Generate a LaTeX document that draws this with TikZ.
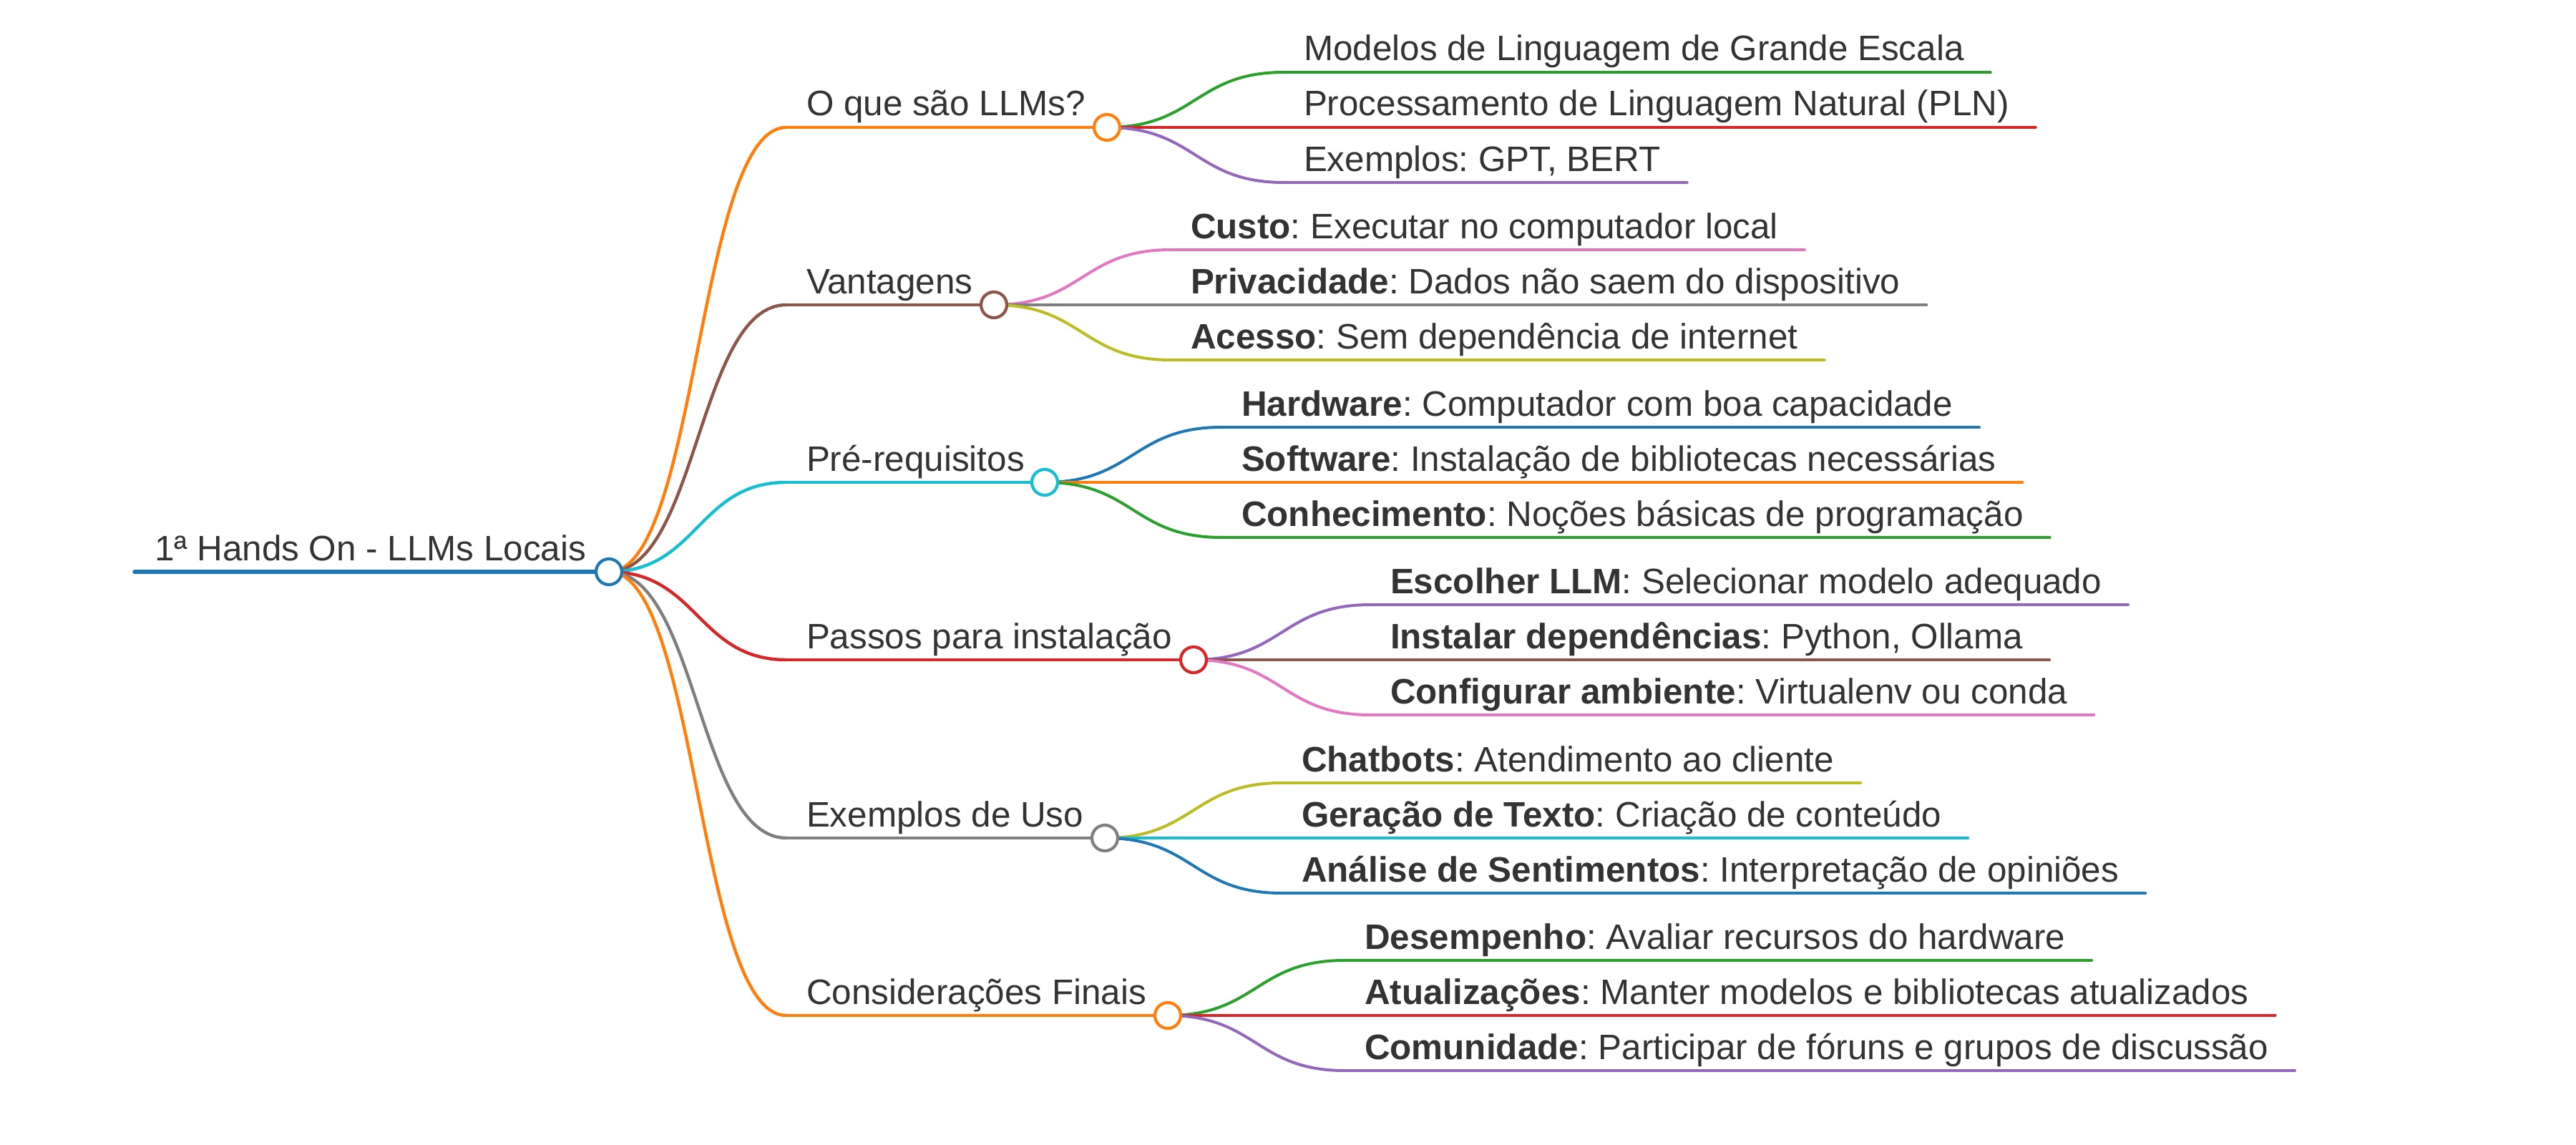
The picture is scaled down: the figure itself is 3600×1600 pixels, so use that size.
\documentclass[tikz,border=0pt]{standalone}
\usepackage{fontspec}
\setmainfont{Liberation Sans}
\usetikzlibrary{calc}
\frenchspacing
\definecolor{txt}{HTML}{333333}
\definecolor{cblue}{HTML}{1F77B4}
\definecolor{corange}{HTML}{FF7F0E}
\definecolor{cgreen}{HTML}{2CA02C}
\definecolor{cred}{HTML}{D62728}
\definecolor{cpurple}{HTML}{9467BD}
\definecolor{cbrown}{HTML}{8C564B}
\definecolor{cpink}{HTML}{E377C2}
\definecolor{cgray}{HTML}{7F7F7F}
\definecolor{colive}{HTML}{BCBD22}
\definecolor{ccyan}{HTML}{17BECF}
\tikzset{
  mmtext/.style={inner sep=0pt, outer sep=0pt, text=txt, anchor=base west,
    font=\fontsize{24.7pt}{30pt}\selectfont},
  edge0/.style={line width=2.8pt, line cap=round},
  edge1/.style={line width=2.2pt, line cap=round},
  edge2/.style={line width=2pt, line cap=round},
  knob/.style={circle, minimum size=18pt, inner sep=0pt, line width=2.1pt, fill=white}
}
\newcommand{\mmleaf}[5]{%
  \coordinate (l#1) at ($(#2)+(247,#3)$);
  \node[mmtext] (t#1) at ($(#2)+(275,#3-16)$) {#5};
  \draw[edge2, draw=#4] (l#1) -- ($(l#1 -| t#1.east)+(37,0)$);
  \draw[edge2, draw=#4] (#2) .. controls ($(#2)+(124,0)$) and ($(l#1)+(-124,0)$) .. (l#1);
}
\newcommand{\mmbranch}[5]{%
  \coordinate (k#1) at (#2,#3);
  \coordinate (s#1) at (1099,#3);
  \node[mmtext] (h#1) at (1127,#3-16) {#5};
  \draw[edge1, draw=#4] (s#1) -- (k#1);
  \draw[edge1, draw=#4] (k0) .. controls ($(k0)+(124,0)$) and ($(s#1)+(-124,0)$) .. (s#1);
}
\begin{document}
\begin{tikzpicture}[x=0.5pt,y=-0.5pt]
\useasboundingbox (0,0) rectangle (3600,1600);
\fill[white] (0,0) rectangle (3600,1600);
% root
\coordinate (k0) at (851,799);
\coordinate (s0) at (188,799);
\node[mmtext] (h0) at (216,783) {1ª Hands On - LLMs Locais};
\draw[edge0, draw=cblue] (s0) -- (k0);
% level 1
\mmbranch{1}{1547}{178}{corange}{O que são LLMs?}
\mmbranch{2}{1389}{426}{cbrown}{Vantagens}
\mmbranch{3}{1460}{674}{ccyan}{Pré-requisitos}
\mmbranch{4}{1668}{922}{cred}{Passos para instalação}
\mmbranch{5}{1544}{1171}{cgray}{Exemplos de Uso}
\mmbranch{6}{1632}{1419}{corange}{Considerações Finais}
% level 2
\mmleaf{1a}{k1}{-77}{cgreen}{Modelos de Linguagem de Grande Escala}
\mmleaf{1b}{k1}{0}{cred}{Processamento de Linguagem Natural (PLN)}
\mmleaf{1c}{k1}{77}{cpurple}{Exemplos: GPT, BERT}
\mmleaf{2a}{k2}{-77}{cpink}{\textbf{Custo}: Executar no computador local}
\mmleaf{2b}{k2}{0}{cgray}{\textbf{Privacidade}: Dados não saem do dispositivo}
\mmleaf{2c}{k2}{77}{colive}{\textbf{Acesso}: Sem dependência de internet}
\mmleaf{3a}{k3}{-77}{cblue}{\textbf{Hardware}: Computador com boa capacidade}
\mmleaf{3b}{k3}{0}{corange}{\textbf{Software}: Instalação de bibliotecas necessárias}
\mmleaf{3c}{k3}{77}{cgreen}{\textbf{Conhecimento}: Noções básicas de programação}
\mmleaf{4a}{k4}{-77}{cpurple}{\textbf{Escolher LLM}: Selecionar modelo adequado}
\mmleaf{4b}{k4}{0}{cbrown}{\textbf{Instalar dependências}: Python, Ollama}
\mmleaf{4c}{k4}{77}{cpink}{\textbf{Configurar ambiente}: Virtualenv ou conda}
\mmleaf{5a}{k5}{-77}{colive}{\textbf{Chatbots}: Atendimento ao cliente}
\mmleaf{5b}{k5}{0}{ccyan}{\textbf{Geração de Texto}: Criação de conteúdo}
\mmleaf{5c}{k5}{77}{cblue}{\textbf{Análise de Sentimentos}: Interpretação de opiniões}
\mmleaf{6a}{k6}{-77}{cgreen}{\textbf{Desempenho}: Avaliar recursos do hardware}
\mmleaf{6b}{k6}{0}{cred}{\textbf{Atualizações}: Manter modelos e bibliotecas atualizados}
\mmleaf{6c}{k6}{77}{cpurple}{\textbf{Comunidade}: Participar de fóruns e grupos de discussão}
% circles on top
\node[knob, draw=cblue] (c0) at (k0) {};
\node[knob, draw=corange] (c1) at (k1) {};
\node[knob, draw=cbrown] (c2) at (k2) {};
\node[knob, draw=ccyan] (c3) at (k3) {};
\node[knob, draw=cred] (c4) at (k4) {};
\node[knob, draw=cgray] (c5) at (k5) {};
\node[knob, draw=corange] (c6) at (k6) {};
\end{tikzpicture}
\end{document}
